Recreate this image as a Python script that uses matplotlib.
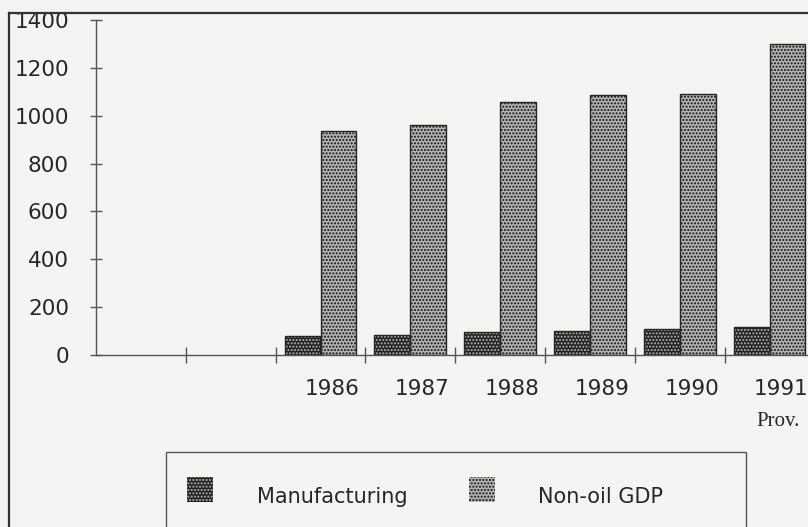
import numpy as np
import matplotlib.pyplot as plt
from matplotlib.patches import Rectangle
from matplotlib.lines import Line2D
from matplotlib.transforms import ScaledTranslation

# Data (values, both series)
years = ["1986", "1987", "1988", "1989", "1990", "1991"]
manufacturing = [80, 84, 96, 100, 108, 117]
non_oil_gdp = [936, 962, 1058, 1088, 1090, 1300]
y_ticks = [0, 200, 400, 600, 800, 1000, 1200, 1400]

W, H = 808, 527
bg = "#f4f4f3"
ink = "#262626"
dark_face, dark_dots = "#222222", "#b5b5b5"
light_face, light_dots = "#b4b4b4", "#111111"

plt.rcParams["font.family"] = ["DejaVu Sans"]
plt.rcParams["hatch.linewidth"] = 1.0

fig = plt.figure(figsize=(W / 100, H / 100), dpi=100, facecolor=bg)


def fx(px):
    return px / W


def fy(py):
    return 1 - py / H


# axes: 8 category slots, first two empty, last one runs off the page
slot = 89.8
ax = fig.add_axes([fx(96), fy(355), fx(8 * slot), fy(20) - fy(355)])
ax.set_facecolor("none")
ax.set_xlim(0, 8)
ax.set_ylim(0, 1400)

x = np.arange(len(years)) + 2.5
w = 0.4


def textured_bars(xs, vals, face, dots):
    ax.bar(xs, vals, w, color=face, edgecolor="none", linewidth=0, zorder=2)
    ax.bar(xs, vals, w, color="none", edgecolor=dots, hatch=".....", linewidth=0, zorder=3)
    ax.bar(xs, vals, w, color="none", edgecolor=ink, linewidth=1, zorder=4)


textured_bars(x - w / 2, manufacturing, dark_face, dark_dots)
textured_bars(x + w / 2, non_oil_gdp, light_face, light_dots)

for s in ["top", "right"]:
    ax.spines[s].set_visible(False)
for s in ["left", "bottom"]:
    ax.spines[s].set_color("#555555")
    ax.spines[s].set_linewidth(1)

ax.set_yticks(y_ticks)
ax.set_yticklabels([str(v) for v in y_ticks], fontsize=15.5, color=ink)
ax.tick_params(axis="y", direction="inout", length=9, width=1, color="#555555", pad=15)

ax.set_xticks(x)
ax.set_xticklabels(years, fontsize=15.5, color=ink)
ax.set_xticks(np.arange(1, 8), minor=True)
ax.tick_params(axis="x", which="major", length=0, pad=17)
ax.tick_params(axis="x", which="minor", direction="inout", length=12, width=1, color="#555555")
# year labels sit a little right of the slot centres in the original
shift = ScaledTranslation(12 / 100, 0, fig.dpi_scale_trans)
for lab in ax.get_xticklabels():
    lab.set_transform(lab.get_transform() + shift)

fig.text(fx(778), fy(421), "Prov.", fontsize=15, family="Liberation Serif",
         color=ink, ha="center", va="center")

# outer frame (cropped at right/bottom)
fig.add_artist(Line2D([fx(9), fx(9)], [fy(13), 0], color="#333333", lw=1.6))
fig.add_artist(Line2D([fx(9), 1], [fy(13), fy(13)], color="#333333", lw=1.6))

# legend box, cropped at the bottom
fig.add_artist(Rectangle((fx(166), -0.05), fx(746 - 166), fy(452) + 0.05,
                         facecolor="none", edgecolor="#555555", lw=1))
for px, face, dots, label, tx in [(187, dark_face, dark_dots, "Manufacturing", 257),
                                  (469, light_face, light_dots, "Non-oil GDP", 538)]:
    fig.add_artist(Rectangle((fx(px), fy(502)), fx(26), fy(477) - fy(502),
                             facecolor=face, edgecolor="none"))
    fig.add_artist(Rectangle((fx(px), fy(502)), fx(26), fy(477) - fy(502),
                             facecolor="none", edgecolor=dots, hatch=".....", lw=0))
    fig.text(fx(tx), fy(497), label, fontsize=15, color=ink, ha="left", va="center")

fig.savefig("out.png", dpi=100, facecolor=bg)
